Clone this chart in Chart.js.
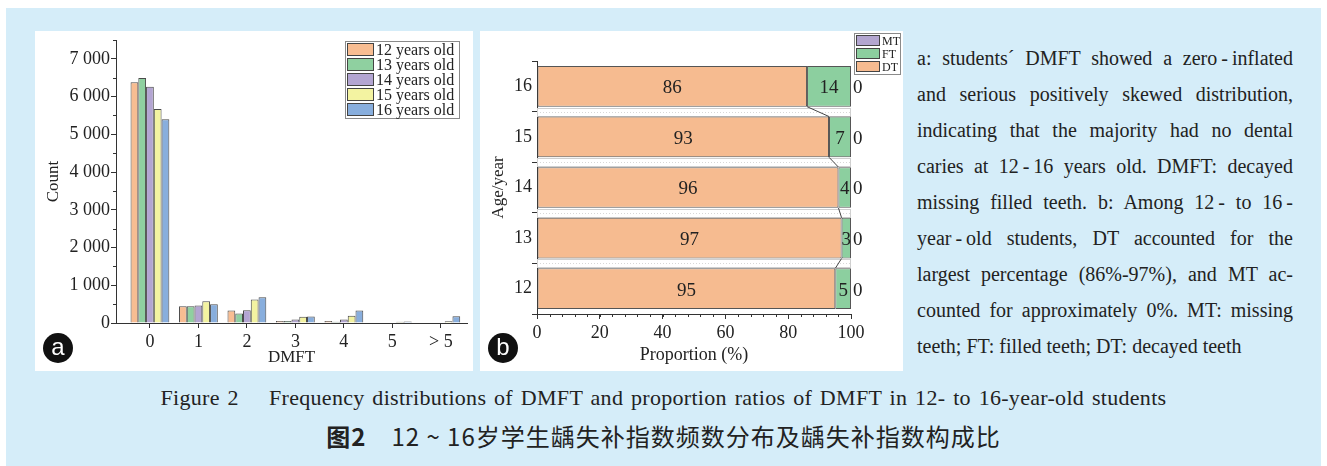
<!DOCTYPE html>
<html>
<head>
<meta charset="utf-8">
<title>DMFT in 12- to 16-year-old students</title>
<script src="https://cdn.jsdelivr.net/npm/chart.js@4.4.0/dist/chart.umd.min.js"></script>
<style>
  html, body { margin: 0; padding: 0; background: #fff; }
  body { width: 1327px; height: 466px; position: relative; overflow: hidden;
         font-family: "Liberation Serif", "Times New Roman", serif; color: #222; }
  #frame { position: absolute; left: 6px; top: 8px; right: 6px; bottom: 0; background: #d5edf9; }
  .panel { position: absolute; background: #fff; }
  #panelA { left: 35px; top: 31px; width: 438px; height: 340px; }
  #panelB { left: 480px; top: 31px; width: 423px; height: 340px; }
  .badge { position: absolute; width: 30px; height: 30px; border-radius: 50%; background: #111;
           color: #fff; font-family: "Liberation Sans", Arial, sans-serif; font-size: 24px;
           line-height: 28px; text-align: center; }
  #badgeA { left: 43px; top: 333px; }
  #badgeB { left: 488px; top: 333px; }
  #notes { position: absolute; left: 917px; top: 40px; width: 376px; font-size: 20px; line-height: 36px; }
  #notes .ln { text-align: justify; text-align-last: justify; height: 36px; }
  #notes .ln.last { text-align: left; text-align-last: left; }
  #capEn { position: absolute; left: 0; width: 1327px; top: 385px; text-align: center;
           font-size: 22px; line-height: 26px; word-spacing: 2px; letter-spacing: 0.3px; }
  #capZh { position: absolute; left: 0; width: 1327px; top: 421px; text-align: center;
           font-family: "Noto Sans CJK SC", sans-serif; font-size: 24px; line-height: 30px; letter-spacing: 1px; }
</style>
</head>
<body>
<div id="frame"></div>
<div class="panel" id="panelA"><canvas id="chartA" width="438" height="340"></canvas></div>
<div class="panel" id="panelB"><canvas id="chartB" width="423" height="340"></canvas></div>
<div class="badge" id="badgeA">a</div>
<div class="badge" id="badgeB">b</div>
<div id="notes">
  <div class="ln">a: students´ DMFT showed a zero&#8201;-&#8201;inflated</div>
  <div class="ln">and serious positively skewed distribution,</div>
  <div class="ln">indicating that the majority had no dental</div>
  <div class="ln">caries at 12&#8201;-&#8201;16 years old. DMFT: decayed</div>
  <div class="ln">missing filled teeth. b: Among 12&#8201;- to 16&#8201;-</div>
  <div class="ln">year&#8201;-&#8201;old students, DT accounted for the</div>
  <div class="ln">largest percentage (86%-97%), and MT ac-</div>
  <div class="ln">counted for approximately 0%. MT: missing</div>
  <div class="ln last">teeth; FT: filled teeth; DT: decayed teeth</div>
</div>
<div id="capEn">Figure 2&emsp; Frequency distributions of DMFT and proportion ratios of DMFT in 12- to 16-year-old students</div>
<div id="capZh"><b>图2</b>&emsp;12 ~ 16岁学生龋失补指数频数分布及龋失补指数构成比</div>

<script>
// ---- data: panel a (counts by DMFT value) ----
const dmftLabels = ['0', '1', '2', '3', '4', '5', '> 5'];
const ageGroupNames = ['12 years old', '13 years old', '14 years old', '15 years old', '16 years old'];
const count12 = [6380, 445, 330, 55, 55, 10, 10];
const count13 = [6490, 445, 250, 50, 30, 10, 10];
const count14 = [6260, 465, 335, 90, 90, 15, 15];
const count15 = [5670, 575, 620, 165, 195, 30, 45];
const count16 = [5400, 495, 680, 170, 330, 40, 180];
const countTicks = [0, 1000, 2000, 3000, 4000, 5000, 6000, 7000];

// ---- data: panel b (proportions, %) ----
const ageLabels = ['16', '15', '14', '13', '12'];
const dtShare = [86, 93, 96, 97, 95];
const ftShare = [14, 7, 4, 3, 5];
const mtShare = [0, 0, 0, 0, 0];
const proportionTicks = [0, 20, 40, 60, 80, 100];

const ageColors = ['#f8bd92', '#8fd0a0', '#b3a5d2', '#f3f3a1', '#88aedd'];
const SERIF = '"Liberation Serif", "Times New Roman", serif';

Chart.defaults.font.family = SERIF;
Chart.defaults.color = '#222';

function thousands(v) {
    return v >= 1000 ? Math.floor(v / 1000) + ' ' + String(v % 1000).padStart(3, '0') : String(v);
}

// pin the axis boxes so the plot area sits where the figure has it
function fixWidth(w) {
    return function(s) { s.width = w; s.paddingTop = 0; s.paddingBottom = 0; };
}
function fixHeight(h) {
    return function(s) { s.height = h; s.paddingLeft = 0; s.paddingRight = 0; };
}

// short minor tick marks between the labelled ones
const minorTicks = {
    id: 'minorTicks',
    afterDraw(chart, args, opts) {
        const ctx = chart.ctx;
        ctx.save();
        ctx.strokeStyle = '#333';
        ctx.lineWidth = 1;
        (opts.list || []).forEach(m => {
            const scale = chart.scales[m.axis];
            for (let v = m.from; v <= m.to + 1e-9; v += m.step) {
                const p = Math.round(scale.getPixelForValue(v)) + 0.5;
                ctx.beginPath();
                if (scale.isHorizontal()) {
                    ctx.moveTo(p, scale.top);
                    ctx.lineTo(p, scale.top + m.length);
                } else {
                    ctx.moveTo(scale.right, p);
                    ctx.lineTo(scale.right - m.length, p);
                }
                ctx.stroke();
            }
        });
        ctx.restore();
    }
};

// boxed legend drawn at a given spot of the canvas
const boxLegend = {
    id: 'boxLegend',
    afterDraw(chart, args, o) {
        const ctx = chart.ctx;
        let items = chart.data.datasets.map(d => ({ text: d.label, color: d.backgroundColor }));
        if (o.reverse) items = items.reverse();
        const h = items.length * o.row + 2;
        ctx.save();
        ctx.fillStyle = '#fff';
        ctx.fillRect(o.x, o.y, o.width, h);
        ctx.strokeStyle = '#8a8a8a';
        ctx.lineWidth = 1;
        ctx.strokeRect(o.x + 0.5, o.y + 0.5, o.width, h);
        ctx.font = o.font;
        ctx.textBaseline = 'middle';
        items.forEach((it, i) => {
            const y = o.y + 1 + i * o.row;
            ctx.fillStyle = it.color;
            ctx.fillRect(o.x + 2, y + 1, o.swatch, o.row - 2);
            ctx.strokeStyle = '#444';
            ctx.strokeRect(o.x + 2.5, y + 1.5, o.swatch - 1, o.row - 3);
            ctx.fillStyle = '#222';
            ctx.fillText(it.text, o.x + o.swatch + 4, y + o.row / 2 + 1);
        });
        ctx.restore();
    }
};

// gap strips, connector line and value labels of the stacked bars
const stackDecor = {
    id: 'stackDecor',
    beforeDatasetsDraw(chart) {
        const ctx = chart.ctx;
        const area = chart.chartArea;
        const bars = chart.getDatasetMeta(0).data;
        ctx.save();
        ctx.lineWidth = 1;
        for (let i = 0; i < bars.length; i++) {
            const top = bars[i].y + bars[i].height / 2 + 1;
            const bottom = i < bars.length - 1 ? bars[i + 1].y - bars[i + 1].height / 2 - 1 : area.bottom - 2;
            if (bottom - top < 2) continue;
            ctx.strokeStyle = '#cfcfcf';
            ctx.strokeRect(area.left + 0.5, Math.round(top) + 0.5, area.right - area.left - 1, Math.round(bottom - top));
            if (i < bars.length - 1) {
                ctx.setLineDash([1, 2]);
                ctx.strokeStyle = '#d8d8d8';
                const mid = Math.round((top + bottom) / 2) + 0.5;
                ctx.beginPath();
                ctx.moveTo(area.left, mid);
                ctx.lineTo(area.right, mid);
                ctx.stroke();
                ctx.setLineDash([]);
            }
        }
        ctx.restore();
    },
    afterDatasetsDraw(chart) {
        const ctx = chart.ctx;
        const area = chart.chartArea;
        const dt = chart.getDatasetMeta(0).data;
        ctx.save();
        ctx.strokeStyle = '#444';
        ctx.lineWidth = 1;
        for (let i = 0; i < dt.length - 1; i++) {
            ctx.beginPath();
            ctx.moveTo(dt[i].x, dt[i].y + dt[i].height / 2);
            ctx.lineTo(dt[i + 1].x, dt[i + 1].y - dt[i + 1].height / 2);
            ctx.stroke();
        }
        ctx.font = '19px ' + SERIF;
        ctx.fillStyle = '#222';
        ctx.textBaseline = 'middle';
        chart.data.datasets.forEach((ds, di) => {
            const els = chart.getDatasetMeta(di).data;
            els.forEach((el, i) => {
                const v = ds.data[i];
                if (v > 0) {
                    ctx.textAlign = 'center';
                    ctx.fillText(String(v), (el.x + el.base) / 2, el.y + 2);
                } else {
                    ctx.textAlign = 'left';
                    ctx.fillText(String(v), area.right + 2, el.y + 2);
                }
            });
        });
        ctx.restore();
    }
};

// ---------- panel a ----------
const countSeries = [count12, count13, count14, count15, count16];
new Chart(document.getElementById('chartA'), {
    type: 'bar',
    data: {
        datasets: countSeries.map((vals, k) => ({
            label: ageGroupNames[k],
            data: vals.map((v, i) => ({ x: i, y: v })),
            backgroundColor: ageColors[k],
            borderColor: '#4a4a4a',
            borderWidth: 1,
            categoryPercentage: 0.8,
            barPercentage: 1
        }))
    },
    options: {
        responsive: false,
        animation: false,
        layout: { padding: { top: 9, right: 6, left: 0, bottom: 0 } },
        plugins: {
            legend: { display: false },
            tooltip: { enabled: false },
            boxLegend: { x: 310, y: 10, width: 114, row: 15, swatch: 27, font: '16px ' + SERIF },
            minorTicks: { list: [{ axis: 'y', from: 500, to: 7500, step: 1000, length: 3 }] }
        },
        scales: {
            x: {
                type: 'linear',
                offset: false,
                min: -0.7,
                max: 6.54,
                afterBuildTicks: s => { s.ticks = dmftLabels.map((_, i) => ({ value: i })); },
                afterFit: fixHeight(48),
                ticks: { callback: v => dmftLabels[v], font: { size: 18 }, padding: 3, maxRotation: 0, autoSkip: false },
                grid: { drawOnChartArea: false, offset: false, tickLength: 5, color: '#333' },
                border: { color: '#333' },
                title: { display: true, text: 'DMFT', font: { size: 17 }, padding: { top: 0, bottom: 3 } }
            },
            y: {
                min: 0,
                max: 7500,
                afterBuildTicks: s => { s.ticks = countTicks.map(v => ({ value: v })); },
                afterFit: fixWidth(81),
                ticks: { callback: v => thousands(v), font: { size: 18 }, padding: 1 },
                grid: { drawOnChartArea: false, tickLength: 5, color: '#333' },
                border: { color: '#333' },
                title: { display: true, text: 'Count', font: { size: 17 }, padding: { top: 8, bottom: 0 } }
            }
        }
    },
    plugins: [minorTicks, boxLegend]
});

// ---------- panel b ----------
new Chart(document.getElementById('chartB'), {
    type: 'bar',
    data: {
        labels: ageLabels,
        datasets: [
            { label: 'DT', data: dtShare, backgroundColor: '#f6bb90' },
            { label: 'FT', data: ftShare, backgroundColor: '#8ccf9f' },
            { label: 'MT', data: mtShare, backgroundColor: '#b3a6d0' }
        ].map(d => Object.assign(d, {
            borderColor: '#555', borderWidth: 1, borderSkipped: false,
            categoryPercentage: 0.805, barPercentage: 1
        }))
    },
    options: {
        indexAxis: 'y',
        responsive: false,
        animation: false,
        layout: { padding: { top: 30, right: 52, left: 0, bottom: 0 } },
        plugins: {
            legend: { display: false },
            tooltip: { enabled: false },
            boxLegend: { x: 374, y: 2, width: 46, row: 13, swatch: 24, font: '12px ' + SERIF, reverse: true },
            minorTicks: { list: [{ axis: 'x', from: 4, to: 96, step: 4, length: 3 }] }
        },
        scales: {
            x: {
                stacked: true,
                min: 0,
                max: 100,
                afterBuildTicks: s => { s.ticks = proportionTicks.map(v => ({ value: v })); },
                afterFit: fixHeight(57),
                ticks: { font: { size: 18 }, padding: 3, maxRotation: 0 },
                grid: { drawOnChartArea: false, tickLength: 5, color: '#333' },
                border: { color: '#333' },
                title: { display: true, text: 'Proportion (%)', font: { size: 18 }, padding: { top: 0, bottom: 5 } }
            },
            y: {
                stacked: true,
                afterFit: fixWidth(57),
                ticks: { font: { size: 18 }, padding: 0 },
                grid: { drawOnChartArea: false, offset: true, tickLength: 5, color: '#333' },
                border: { color: '#333' },
                title: { display: true, text: 'Age/year', font: { size: 17 }, padding: { top: 8, bottom: 0 } }
            }
        }
    },
    plugins: [minorTicks, boxLegend, stackDecor]
});
</script>
</body>
</html>
